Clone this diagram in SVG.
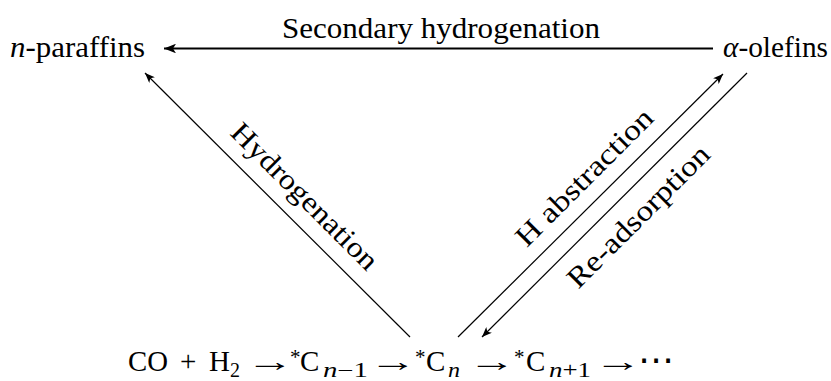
<svg xmlns="http://www.w3.org/2000/svg" width="831" height="381" viewBox="0 0 831 381">
<style>
text { font-family: "Liberation Serif", "DejaVu Serif", serif; font-size: 29px; fill: #000; }
.it { font-style: italic; }
.sub { font-size: 20px; }
.star { font-size: 21px; }
.dots { font-family: "DejaVu Sans", sans-serif; font-size: 36px; }
.edge { stroke: #000; fill: none; stroke-width: 1.2; }
.thick { stroke-width: 2; }
</style>
<defs>
<marker id="ah" markerUnits="userSpaceOnUse" viewBox="0 0 10 8" refX="10" refY="4" markerWidth="10" markerHeight="8" orient="auto">
<path d="M0,0 L10,4 L0,8 L2.5,4 z" fill="#000"/>
</marker>
<marker id="ahL" markerUnits="userSpaceOnUse" viewBox="0 0 10 8" refX="10" refY="4" markerWidth="12" markerHeight="9.6" orient="auto">
<path d="M0,0 L10,4 L0,8 L2.5,4 z" fill="#000"/>
</marker>
</defs>
<rect width="831" height="381" fill="#fff"/>

<g id="n-paraffins">
<text x="10" y="57" textLength="135" lengthAdjust="spacingAndGlyphs"><tspan class="it">n</tspan>-paraffins</text>
</g>
<g id="alpha-olefins">
<text x="723" y="57" textLength="105" lengthAdjust="spacingAndGlyphs"><tspan class="it">α</tspan>-olefins</text>
</g>
<g id="chain">
<text x="128" y="371" textLength="40" lengthAdjust="spacingAndGlyphs">CO</text>
<text x="180" y="371">+</text>
<text x="209" y="371">H</text>
<text class="sub" x="230" y="377">2</text>
<text transform="translate(246,371) scale(1.65,1)">→</text>
<text class="star" x="290" y="364">*</text>
<text x="300" y="371">C</text>
<text class="sub" x="323" y="377" textLength="45" lengthAdjust="spacingAndGlyphs"><tspan class="it">n</tspan>−1</text>
<text transform="translate(369,371) scale(1.65,1)">→</text>
<text class="star" x="415" y="364">*</text>
<text x="426" y="371">C</text>
<text class="sub it" x="448" y="377" textLength="12" lengthAdjust="spacingAndGlyphs">n</text>
<text transform="translate(468,371) scale(1.65,1)">→</text>
<text class="star" x="514" y="364">*</text>
<text x="526" y="371">C</text>
<text class="sub" x="549" y="377" textLength="42" lengthAdjust="spacingAndGlyphs"><tspan class="it">n</tspan>+1</text>
<text transform="translate(594,371) scale(1.65,1)">→</text>
<text class="dots" x="638" y="372">⋯</text>
</g>

<g id="connectors">
<line class="edge thick" x1="713" y1="48.5" x2="164" y2="48.5" marker-end="url(#ahL)"/>
<line class="edge" x1="410" y1="337" x2="145" y2="73" marker-end="url(#ah)"/>
<line class="edge" x1="458" y1="337" x2="723" y2="74" marker-end="url(#ah)"/>
<line class="edge" x1="747" y1="73" x2="482" y2="337" marker-end="url(#ah)"/>
<text x="282" y="38" textLength="318" lengthAdjust="spacingAndGlyphs">Secondary hydrogenation</text>
<text transform="translate(298,203) rotate(45)" text-anchor="middle" textLength="195" lengthAdjust="spacingAndGlyphs">Hydrogenation</text>
<text transform="translate(591,184) rotate(-45)" text-anchor="middle" textLength="182" lengthAdjust="spacingAndGlyphs">H abstraction</text>
<text transform="translate(645,223) rotate(-45)" text-anchor="middle" textLength="189" lengthAdjust="spacingAndGlyphs">Re-adsorption</text>
</g>
</svg>
